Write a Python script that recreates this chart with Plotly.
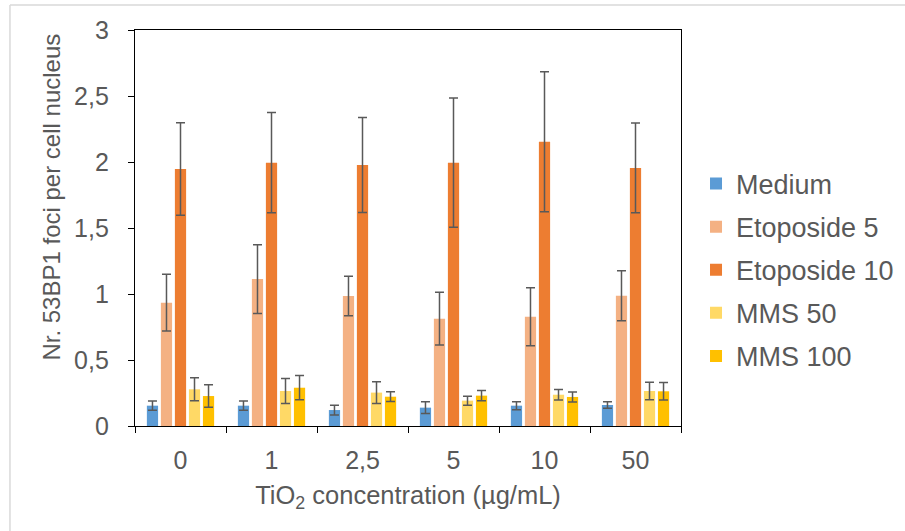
import plotly.graph_objects as go

categories = ["0", "1", "2,5", "5", "10", "50"]
series_names = ["Medium", "Etoposide 5", "Etoposide 10", "MMS 50", "MMS 100"]
medium = [0.154, 0.154, 0.121, 0.139, 0.154, 0.159]
medium_err = [0.035, 0.035, 0.037, 0.044, 0.030, 0.025]
etop5 = [0.934, 1.113, 0.985, 0.813, 0.828, 0.987]
etop5_err = [0.215, 0.26, 0.15, 0.20, 0.22, 0.19]
etop10 = [1.947, 1.995, 1.977, 1.995, 2.154, 1.955]
etop10_err = [0.35, 0.38, 0.36, 0.49, 0.53, 0.34]
mms50 = [0.278, 0.265, 0.253, 0.192, 0.237, 0.265]
mms50_err = [0.087, 0.094, 0.082, 0.034, 0.040, 0.067]
mms100 = [0.227, 0.290, 0.222, 0.230, 0.220, 0.263]
mms100_err = [0.085, 0.092, 0.037, 0.038, 0.038, 0.066]
colors = ["#5B9BD5", "#F4B183", "#ED7D31", "#FFD966", "#FFC000"]
x_title = "TiO<sub>2</sub> concentration (µg/mL)"
y_title = "Nr. 53BP1 foci per cell nucleus"

values = [medium, etop5, etop10, mms50, mms100]
errors = [medium_err, etop5_err, etop10_err, mms50_err, mms100_err]

fig = go.Figure()
for name, v, e, c in zip(series_names, values, errors, colors):
    fig.add_trace(go.Bar(
        name=name, x=categories, y=v, legendgroup=name,
        marker=dict(color=c, line=dict(width=0)),
        error_y=dict(type="data", array=e, visible=True, color="#595959",
                     thickness=1.5, width=4.5),
    ))

font_color = "#595959"
fs = 25
fig.update_layout(
    width=905, height=531,
    margin=dict(l=135, r=224, t=30, b=105, autoexpand=False),
    paper_bgcolor="white", plot_bgcolor="white",
    barmode="group", bargap=0.23, bargroupgap=0.2,
    separators=", ",
    font=dict(family="Liberation Sans, Arial", size=fs, color=font_color),
    showlegend=True,
    legend=dict(x=1.0275, y=0.394, xanchor="left", yanchor="middle",
                font=dict(size=27, color=font_color),
                itemwidth=30, tracegroupgap=5,
                bgcolor="rgba(0,0,0,0)"),
    xaxis=dict(
        type="category",
        title=dict(text=x_title, standoff=12,
                   font=dict(size=25.5, color=font_color)),
        showline=True, linecolor="black", linewidth=1.3, mirror=True,
        ticks="outside", tickson="boundaries", ticklen=6, tickcolor="black",
        tickfont=dict(size=fs, color=font_color), ticklabelstandoff=12,
        showgrid=False, automargin=False,
    ),
    yaxis=dict(
        range=[0, 3], dtick=0.5, tickformat=".1~f",
        showline=True, linecolor="black", linewidth=1.3, mirror=True,
        ticks="outside", ticklen=6, tickcolor="black",
        tickfont=dict(size=fs, color=font_color), ticklabelstandoff=14,
        showgrid=False, zeroline=False, automargin=False,
    ),
    annotations=[
        dict(text=y_title, xref="paper", yref="paper", x=-0.153, y=0.578,
             xanchor="center", yanchor="middle", textangle=-90,
             showarrow=False, font=dict(size=24, color=font_color)),
    ],
    shapes=[
        dict(type="line", xref="paper", yref="paper", x0=-0.229, x1=1.5,
             y0=1.0631, y1=1.0631, line=dict(color="#D9D9D9", width=1.5)),
        dict(type="line", xref="paper", yref="paper", x0=-0.229, x1=-0.229,
             y0=1.0631, y1=-0.3, line=dict(color="#D9D9D9", width=1.5)),
    ],
)

fig.write_html("out.html", config={"displayModeBar": False},
               post_script="document.body.style.margin='0';document.body.style.overflow='hidden';")
